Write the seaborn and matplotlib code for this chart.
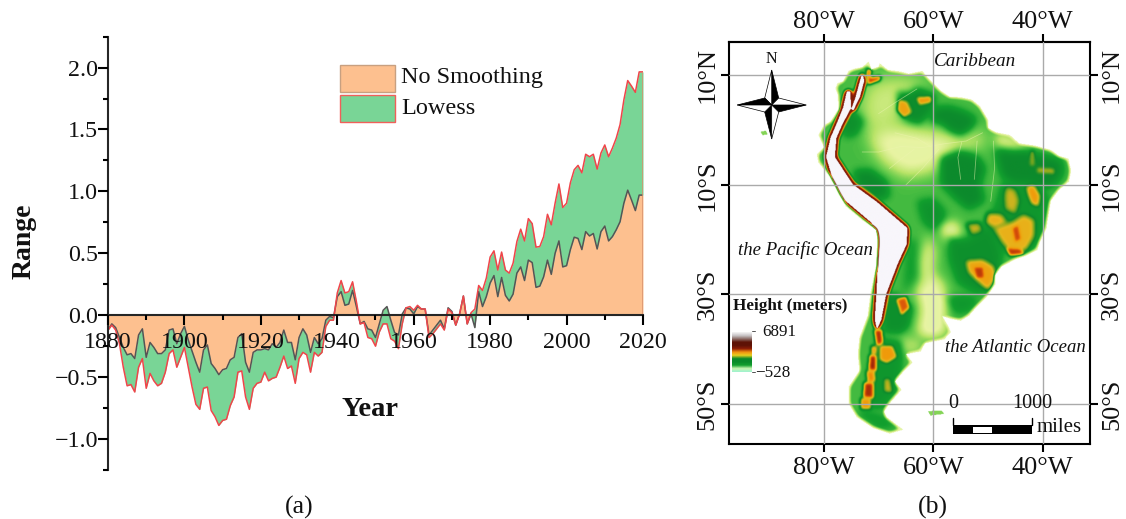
import numpy as np
import seaborn as sns
import matplotlib.pyplot as plt
from matplotlib.path import Path
from matplotlib.patches import Polygon, Rectangle
from matplotlib.ticker import MultipleLocator

#%%
# Panel (a) values
years = np.arange(1880, 2021)
no_smoothing = [
    -.12, -.07, -.10, -.18, -.26, -.32, -.31, -.35, -.16, -.11,
    -.34, -.22, -.26, -.31, -.31, -.28, -.12, -.11, -.23, -.15,
    -.09, -.20, -.29, -.38, -.46, -.28, -.24, -.39, -.43, -.48,
    -.44, -.43, -.36, -.34, -.18, -.15, -.38, -.46, -.30, -.28,
    -.28, -.27, -.28, -.23, -.26, -.22, -.12, -.22, -.22, -.36,
    -.18, -.11, -.16, -.30, -.18, -.23, -.19, -.04, -.01, -.02,
    .15, .19, .08, .09, .20, .07, -.07, -.05, -.11, -.12,
    -.18, -.07, .04, .07, -.04, -.14, -.16, .01, .06, .05,
    .01, .07, .05, .05, -.16, -.12, -.08, -.04, -.11, .06,
    .03, -.08, .01, .155, -.07, .01, -.10, .19, .07, .15,
    .26, .32, .15, .305, .16, .115, .17, .34, .39, .28,
    .445, .425, .225, .235, .31, .445, .33, .50, .60, .39,
    .40, .53, .63, .62, .53, .675, .64, .66, .535, .675,
    .72, .60, .635, .69, .755, .905, 1.01, .93, .845, .97, .97]
lowess = [
    -.12, -.08, -.12, -.23, -.42, -.57, -.56, -.62, -.42, -.35,
    -.59, -.47, -.53, -.57, -.55, -.46, -.31, -.28, -.42, -.34,
    -.26, -.42, -.58, -.72, -.76, -.59, -.58, -.77, -.82, -.89,
    -.85, -.84, -.73, -.66, -.46, -.45, -.66, -.76, -.59, -.55,
    -.54, -.46, -.53, -.51, -.50, -.42, -.33, -.43, -.41, -.55,
    -.35, -.30, -.32, -.46, -.30, -.33, -.30, -.09, -.04, -.04,
    .18, .28, .18, .19, .27, .11, -.07, -.06, -.18, -.19,
    -.25, -.135, -.07, -.07, -.19, -.21, -.27, -.07, .06, .07,
    .04, .08, .05, .05, -.18, -.15, -.11, -.07, -.12, .05,
    .02, -.08, .01, .155, -.07, .02, .05, .24, .20, .30,
    .47, .52, .365, .51, .365, .34, .42, .595, .695, .60,
    .78, .74, .55, .555, .635, .815, .73, .905, 1.06, .87,
    .905, 1.07, 1.175, 1.21, 1.15, 1.30, 1.28, 1.30, 1.18, 1.31,
    1.375, 1.28, 1.35, 1.43, 1.54, 1.74, 1.895, 1.85, 1.80, 1.965, 1.965]
y_ticks = [-1.0, -0.5, 0.0, 0.5, 1.0, 1.5, 2.0]
y_tick_labels = ["\u22121.0", "\u22120.5", "0.0", "0.5", "1.0", "1.5", "2.0"]
x_ticks = [1880, 1900, 1920, 1940, 1960, 1980, 2000, 2020]

# Panel (b) graticule
lon_ticks = [-80, -60, -40]
lon_labels = ["80°W", "60°W", "40°W"]
lat_ticks = [10, -10, -30, -50]
lat_labels = ["10°N", "10°S", "30°S", "50°S"]

# Panel (b) outlines as (lon, lat)
land = [(-77.5, 8.5), (-76.5, 8.8), (-75.5, 10.7), (-74.5, 11.1), (-73, 11.4), (-71.8, 12.4), (-71.3, 11),
        (-70, 11.5), (-69.8, 12.1), (-68.3, 10.9), (-66, 10.6), (-64.5, 10.2), (-62, 10.7), (-61, 9.5),
        (-60, 8.5), (-58.5, 7), (-57, 6), (-55, 5.9), (-53, 5.5), (-51.5, 4.3), (-50, 1.8), (-50, .3),
        (-48.5, -.5), (-46, -1), (-44.3, -2.5), (-41.5, -2.9), (-38.5, -3.7), (-37, -4.8), (-35.3, -5.3),
        (-34.8, -7.5), (-35.2, -9.5), (-37, -11), (-38.5, -13), (-39, -16), (-39.3, -18), (-40.5, -20.5),
        (-41, -22), (-43, -23), (-45, -23.7), (-47.5, -25), (-48.6, -26.5), (-48.7, -28.3), (-50.2, -30.5),
        (-52, -32.3), (-53.5, -34), (-55, -34.9), (-57, -34.5), (-58.4, -34), (-57.2, -36), (-56.8, -37),
        (-58, -38.3), (-61.5, -39), (-62.3, -40.5), (-65, -41), (-63.8, -42.5), (-65.3, -44), (-67, -46),
        (-65.8, -47.5), (-68, -50), (-69, -51.5), (-68.5, -52.5), (-65.5, -54.8), (-68, -55.5), (-71, -54.5),
        (-74, -52.5), (-75.5, -50), (-75.5, -47), (-73.5, -44), (-73.8, -41), (-73.5, -38), (-72, -34),
        (-71.5, -30), (-70.5, -25), (-70.2, -20), (-70.5, -18.3), (-73, -16.5), (-76, -14), (-77.2, -12),
        (-79, -8.5), (-81, -6), (-81.3, -4.5), (-80, -3.2), (-81, -1), (-80, .8), (-78.8, 1.5), (-77.3, 3.8),
        (-77.5, 6.5), (-77.9, 7.5)]
galapagos = [(-91.6, -.4), (-90.6, -.2), (-90.3, -.9), (-91.2, -1)]
malvinas = [(-61, -51.4), (-58.5, -51.3), (-58, -51.9), (-60.5, -52.2)]
andes_high = [(-75.8, 7), (-76.5, 4), (-77.5, 1.5), (-78.8, -1.5), (-79.6, -5), (-78.4, -9), (-76.4, -12.7),
              (-71.3, -17), (-70.2, -20), (-70.1, -24), (-70.4, -30), (-70.7, -34.7), (-70.3, -36.5),
              (-69.5, -34.7), (-68.6, -30), (-66.5, -24.5), (-64.9, -21), (-64.7, -18), (-70.3, -13.2),
              (-74.7, -10), (-78, -5), (-77.7, -1.5), (-76.6, 1), (-75, 4), (-75.2, 7)]
andes_east = [(-73, 10.3), (-72.6, 9), (-73.4, 6), (-74.6, 3.5), (-75, 3.7), (-74.2, 6), (-73.4, 9)]

# (height on the colour ramp, blur in degrees, outline)
layers = [
    # bright lowland greens and pale basins
    (.17, 1.2, [(-72, 8.5), (-66, 9.5), (-60.5, 8.5), (-63, 6.5), (-66.5, 3), (-67, 0), (-72, 0), (-73, 4)]),
    (.12, 1.0, [(-71.6, -.5), (-67, .5), (-60, -.5), (-55, -1.5), (-51, -.5), (-50.5, -2.5), (-56, -3.5), (-60, -7.5),
                (-65, -8.5), (-69, -6), (-71, -3)]),
    (.13, .6, [(-48.5, -.6), (-42.4, -2.6), (-43, -3.4), (-48.5, -3)]),
    (.13, .6, [(-58.8, -17), (-55.5, -16.8), (-55, -19), (-56, -21.3), (-58, -20)]),
    (.15, .7, [(-61, -19), (-59.5, -22), (-60, -26), (-57.5, -29), (-62, -30), (-62.5, -24)]),
    (.10, .7, [(-63, -29), (-59.5, -28), (-57.5, -30.5), (-58, -34), (-57.5, -37), (-60, -38), (-63, -37.5),
               (-62, -33)]),
    (.20, .6, [(-66, -38), (-62.5, -38), (-62, -40.6), (-65.5, -41)]),
    # dark green uplands
    (.40, .5, [(-60, 4), (-57, 4.2), (-54, 3.2), (-52, 2), (-53, .2), (-55, -1.2), (-57, -.3), (-58.5, 1.2),
               (-60.5, 1.5)]),
    (.39, .45, [(-66.7, 7), (-64.5, 6.8), (-62.8, 7.8), (-59.5, 6.3), (-60.2, 3.5), (-62.5, 1), (-65, 1.7), (-66.2, 3.5)]),
    (.40, .5, [(-58.8, -5), (-55, -3.8), (-52, -4.8), (-50.5, -7), (-51.5, -10), (-50.6, -13), (-53.5, -14.6),
               (-56, -12.5), (-58.5, -10)]),
    (.37, .5, [(-63, -13), (-60, -12.5), (-57.6, -15), (-58, -16.5), (-60, -18.6), (-62, -16.8)]),
    (.40, .5, [(-48.8, -3.5), (-45.5, -4), (-43, -3.8), (-39.5, -4.8), (-36.5, -5.5), (-36.2, -8), (-37.8, -10.2),
               (-41, -11), (-45, -10.5), (-47.5, -8.5)]),
    (.40, .5, [(-74.6, -7.5), (-71.5, -7.3), (-68.5, -9.5), (-68, -12.3), (-71, -13), (-73.5, -11.5)]),
    (.38, .5, [(-57.5, -19.5), (-54, -20), (-49, -17), (-47.5, -21.5), (-47.5, -24), (-48.5, -29), (-52, -30),
               (-55.5, -28), (-57, -24)]),
    (.36, .5, [(-47.5, -9.5), (-42, -9.5), (-38.7, -12), (-39.4, -17), (-40.8, -21), (-44, -23), (-48, -22),
               (-50, -17), (-48.5, -13)]),
    (.36, .5, [(-57.6, -30.5), (-54, -30.2), (-51.5, -31), (-53.5, -33.3), (-56, -33.7)]),
    (.38, .5, [(-76.7, 4.5), (-74.5, 3.5), (-72.5, 1.5), (-74, -1), (-76, -1.5), (-77.5, 1)]),
    (.38, .4, [(-69.5, -29.8), (-66.5, -30), (-63.7, -32.5), (-64.5, -36), (-66, -37.2), (-69, -37)]),
    (.36, .4, [(-70, -38), (-66, -38.5), (-65.5, -41), (-66, -46), (-67, -48), (-69, -51), (-72, -51), (-72, -44)]),
    (.34, .5, [(-65, -20), (-63, -20), (-63, -27), (-65.5, -30)]),
    (.34, .4, [(-72.5, -51), (-69, -52), (-66.5, -54.5), (-70, -54.8), (-74, -52)]),
    # yellow and orange highlands
    (.52, .3, [(-46.6, -10.4), (-45, -11), (-44.3, -13), (-45, -15.4), (-46.8, -14.5), (-47, -12)]),
    (.60, .25, [(-43, -10.4), (-41.6, -10.2), (-40.5, -12), (-40.8, -14), (-42, -13.5), (-42.6, -12)]),
    (.55, .3, [(-50, -15.2), (-47.5, -15.5), (-46.5, -17), (-48.8, -18), (-50.5, -17)]),
    (.52, .3, [(-54, -17.2), (-51.5, -17), (-51, -18.5), (-53, -19.3)]),
    (.55, .3, [(-49, -18), (-45.5, -16.8), (-43.5, -15.5), (-41.5, -16.5), (-41.6, -19.5), (-43, -22), (-46, -22.3),
               (-47.5, -20.5)]),
    (.70, .18, [(-46.6, -21.6), (-44, -21.8), (-43.4, -22.7), (-46, -23)]),
    (.68, .18, [(-45.5, -18), (-44.5, -17.5), (-44, -20), (-45, -20.5)]),
    (.58, .28, [(-54, -24), (-51, -23.8), (-49, -25), (-48.6, -27), (-50, -29.3), (-52, -27.5), (-53.5, -26)]),
    (.70, .16, [(-52.5, -25.2), (-51, -25.2), (-50.8, -27), (-52, -27)]),
    (.58, .2, [(-66.3, 5.5), (-64.8, 5), (-64, 3.2), (-65.3, 2.2), (-66.6, 3.5)]),
    (.60, .18, [(-63, 5.8), (-60.5, 6), (-60.5, 5), (-62.5, 4.6)]),
    (.50, .18, [(-41, -7), (-38, -7.2), (-38, -8), (-41, -7.8)]),
    (.48, .18, [(-42.3, -3.9), (-41.6, -3.9), (-41.6, -6.5), (-42.3, -6.5)]),
    (.66, .18, [(-66.7, -31), (-65, -30.5), (-64.4, -32.5), (-65.8, -33.8)]),
    (.60, .2, [(-69.8, -39.5), (-67.5, -39.5), (-66.7, -41.5), (-68.5, -42.6), (-69.8, -42)]),
    (.52, .22, [(-69, -45.5), (-68, -45.5), (-67.5, -48), (-69, -47.8)]),
    # Patagonian cordillera, mottled band
    (.72, .2, [(-70.8, -36.5), (-69.4, -36.5), (-69.2, -39), (-70.3, -39.5)]),
    (.58, .2, [(-71.3, -39.5), (-70.2, -39.5), (-70.4, -41), (-71.4, -41.2)]),
    (.74, .2, [(-71.6, -41.2), (-70.4, -41.2), (-70.5, -44), (-71.8, -44)]),
    (.62, .2, [(-72.2, -44), (-70.8, -44), (-70.6, -46), (-72, -46.2)]),
    (.72, .2, [(-72.6, -46.2), (-71, -46.2), (-71, -49), (-72.8, -49)]),
    (.60, .2, [(-73.2, -49), (-71.5, -49), (-71.5, -51), (-73.3, -51)]),
    # Andes rim and high plateau
    (.70, .2, [(-72.2, 11), (-71.3, 11), (-71.6, 9.5), (-69.5, 9.8), (-69.8, 9), (-72, 8.2)]),
]
rivers = [
    [(-73, -4), (-70, -4), (-66, -3), (-62, -3.2), (-58, -2.5), (-54, -2), (-51, -.5)],
    [(-65, -10), (-62, -7), (-59, -3.5)],
    [(-67, -.5), (-63, -1.5), (-60.5, -3)],
    [(-68, -7), (-65.5, -5), (-63.5, -3.5)],
    [(-55, -9), (-55.5, -5), (-54.8, -2.2)],
    [(-52.5, -9), (-52.2, -5), (-52, -2)],
    [(-49.5, -13), (-48.8, -7), (-49, -2)],
    [(-70, 3), (-67, 5), (-63, 7.5)],
]
ramp_colors = ["#a4f2c8", "#dff5a8", "#e8f3a2", "#b9e468", "#5fc94a", "#12a02e", "#0c8a2c", "#7aa61f", "#e6b81e",
               "#f09a0a", "#d8500a", "#9c2408", "#5e1206", "#8c6e68", "#d5cdd0", "#f8f6fb"]
legend_colors = ["#9ff2d0", "#c8f5b0", "#12a02e", "#0a8a2a", "#0a8a2a", "#e8d020", "#f09010", "#8c1c06", "#5e1206",
                 "#5e1206", "#8c6e68", "#c8c4c6", "#f4f4f4"]

#%%
sns.set_theme(style="ticks")
plt.rcParams["font.family"] = ["Liberation Serif", "DejaVu Serif"]
W, H = 1126, 519
fig = plt.figure(figsize=(W / 100, H / 100), dpi=100)


def add_axes_px(x0, y0, x1, y1):
    return fig.add_axes([x0 / W, 1 - y1 / H, (x1 - x0) / W, (y1 - y0) / H])


#%%
# Panel (a)
ax1 = add_axes_px(108, 36.6, 643, 470)
ax1.fill_between(years, 0, no_smoothing, color="#fdc08f", lw=0)
ax1.fill_between(years, no_smoothing, lowess, color="#79d596", lw=0)
sns.lineplot(x=years, y=no_smoothing, color="#555555", lw=1.1, ax=ax1, legend=False, errorbar=None)
sns.lineplot(x=years, y=lowess, color="#f0454a", lw=1.1, ax=ax1, legend=False, errorbar=None)
ax1.vlines(2020, 0, lowess[-1], color="#d8906c", lw=1.1)
ax1.set_xlim(1880, 2020)
ax1.set_ylim(-1.25, 2.25)
sns.despine(ax=ax1)
ax1.set_axisbelow(False)
ax1.spines["bottom"].set_position(("data", 0))
ax1.spines["left"].set_linewidth(1.5)
ax1.spines["bottom"].set_linewidth(1.5)
ax1.set_xticks(x_ticks)
ax1.set_yticks(y_ticks)
ax1.set_yticklabels(y_tick_labels)
ax1.xaxis.set_minor_locator(MultipleLocator(10))
ax1.yaxis.set_minor_locator(MultipleLocator(.25))
ax1.tick_params(which="major", length=7, width=1.5, labelsize=17.3, color="black", labelcolor="#111111")
ax1.tick_params(axis="x", which="major", pad=5)
ax1.tick_params(axis="y", which="major", pad=0)
ax1.tick_params(which="minor", length=3.5, width=1.5, color="black")
ax1.patch.set_alpha(0)

#%%
# Panel (b): elevation grid from the outlines above
lon_min, lon_max = -97.3, -31.35
lat_min, lat_max = -57.2, 16.13
cell = .1
lon_grid = np.arange(lon_min, lon_max, cell)
lat_grid = np.arange(lat_max, lat_min, -cell)
lon_mesh, lat_mesh = np.meshgrid(lon_grid, lat_grid)
points = np.column_stack([lon_mesh.ravel(), lat_mesh.ravel()])


def raster(outline):
    return Path(outline).contains_points(points).reshape(lon_mesh.shape).astype(float)


def blur(a, degrees):
    sigma = degrees / cell
    fy = np.fft.fftfreq(a.shape[0])[:, None]
    fx = np.fft.rfftfreq(a.shape[1])[None, :]
    gauss = np.exp(-2 * (np.pi * sigma) ** 2 * (fx ** 2 + fy ** 2))
    return np.fft.irfft2(np.fft.rfft2(a) * gauss, s=a.shape)


land_mask = raster(land)
height = np.full(land_mask.shape, .29)
for level, soft, outline in layers:
    weight = np.clip(blur(raster(outline), soft * 1.5), 0, 1)
    height = height * (1 - weight) + level * weight

# brown rim first, then the white plateau on top of it
high = np.clip(raster(andes_high) + raster(andes_east), 0, 1)
rim_soft = blur(high, .45)
foot = np.clip((rim_soft - .02) * 5, 0, 1)
height = height * (1 - foot) + .60 * foot
rim = np.clip((rim_soft - .12) * 6, 0, 1)
height = height * (1 - rim) + .76 * rim
top = np.clip((blur(high, .12) - .45) * 8, 0, 1)
height = height * (1 - top) + 1.0 * top

coast = np.clip((blur(land_mask, .45) - .5) * 2.6, 0, 1)
height = .10 + (height - .10) * coast
island_mask = raster(galapagos) + raster(malvinas)
height[island_mask > 0] = .24

terrain = sns.blend_palette(ramp_colors, n_colors=256, as_cmap=True)
map_rgba = terrain(np.clip(height, 0, 1))
map_rgba[land_mask + island_mask == 0] = (1, 1, 1, 1)

ax2 = add_axes_px(729.3, 41.7, 1090, 443.5)
ax2.imshow(map_rgba, extent=[lon_min, lon_max, lat_min, lat_max], origin="upper", aspect="auto")
for river in rivers:
    sns.lineplot(x=[p[0] for p in river], y=[p[1] for p in river], color="#eef5b0", lw=.6, alpha=.5, ax=ax2,
                 legend=False, errorbar=None, sort=False)
ax2.set_xlim(lon_min, lon_max)
ax2.set_ylim(lat_min, lat_max)
ax2.set_xticks(lon_ticks)
ax2.set_xticklabels(lon_labels)
ax2.set_yticks(lat_ticks)
ax2.set_yticklabels(lat_labels)
ax2.tick_params(right=True, labelright=True, length=6, width=1.5, labelsize=19, color="black", labelcolor="#111111")
ax2.tick_params(axis="x", pad=4)
ax2.tick_params(axis="y", pad=2)
for label in ax2.get_yticklabels():
    label.set_rotation(90)
    label.set_va("center")
ax2.grid(True, color="#aaaaaa", lw=1)
ax2.set_axisbelow(False)
for spine in ax2.spines.values():
    spine.set_linewidth(1.5)
    spine.set_color("black")
ax2_top = ax2.secondary_xaxis("top")
ax2_top.set_xticks(lon_ticks)
ax2_top.set_xticklabels(lon_labels)
ax2_top.tick_params(length=6, width=1.5, labelsize=19, pad=0, color="black", labelcolor="#111111")
ax2_top.spines["top"].set_linewidth(1.5)

# Height ramp
ax_ramp = add_axes_px(732, 332, 752, 372)
ramp = sns.blend_palette(legend_colors, n_colors=256, as_cmap=True)
ax_ramp.imshow(np.linspace(1, 0, 120)[:, None], cmap=ramp, aspect="auto", vmin=0, vmax=1)
ax_ramp.axis("off")

#%%
# Overlay in picture pixels for the annotation
over = fig.add_axes([0, 0, 1, 1], zorder=10)
over.set_xlim(0, W)
over.set_ylim(H, 0)
over.axis("off")
over.patch.set_alpha(0)

over.add_patch(Rectangle((340, 65), 55, 27, fc="#fdc08f", ec="#c8a080", lw=1))
over.add_patch(Rectangle((340, 95), 55, 27, fc="#79d596", ec="#f0605a", lw=1))
over.text(401, 78, "No Smoothing", fontsize=17.5, va="center", color="#111111")
over.text(401, 109, "Lowess", fontsize=17.5, va="center", color="#111111")
over.text(370, 409, "Year", fontsize=20.5, fontweight="bold", ha="center", va="center", color="#111111")
over.text(24, 241, "Range", fontsize=20, fontweight="bold", rotation=90, ha="center", va="center", color="#111111")
over.text(299, 507, "(a)", fontsize=18.5, ha="center", va="center", color="#111111")
over.text(933, 507, "(b)", fontsize=18.5, ha="center", va="center", color="#111111")

over.text(975, 61, "Caribbean", fontsize=13.8, style="italic", ha="center", va="center", color="#111111")
over.text(805.5, 250, "the Pacific Ocean", fontsize=13.5, style="italic", ha="center", va="center", color="#111111")
over.text(1015.5, 347, "the Atlantic Ocean", fontsize=13.5, style="italic", ha="center", va="center", color="#111111")
over.text(733, 306, "Height (meters)", fontsize=12.3, fontweight="bold", va="center", color="#111111")
over.text(762, 332, "6891", fontsize=12.3, va="center", color="#111111")
over.text(755, 373, "\u2212528", fontsize=12.3, va="center", color="#111111")
over.plot([752, 755], [331, 331], color="#555555", lw=.7)
over.plot([752, 755], [372, 372], color="#555555", lw=.7)

# Compass
cx, cy = 771.7, 105
over.text(cx, 59, "N", fontsize=11.5, ha="center", va="center", color="#111111")
tips = [(0, -35), (34.5, 0), (0, 34), (-34.5, 0)]
shoulder = 7
for tx, ty in tips:
    side_a = (cx + (tx - ty) / abs(tx + ty) * shoulder, cy + (ty + tx) / abs(tx + ty) * shoulder)
    side_b = (cx + (tx + ty) / abs(tx + ty) * shoulder, cy + (ty - tx) / abs(tx + ty) * shoulder)
    tip = (cx + tx, cy + ty)
    over.add_patch(Polygon([(cx, cy), tip, side_a], fc="black", ec="black", lw=.5))
    over.add_patch(Polygon([(cx, cy), tip, side_b], fc="white", ec="black", lw=.5))

# Scale bar
over.add_patch(Rectangle((953, 425), 79, 9, fc="black", ec="none"))
over.add_patch(Rectangle((973, 426.5), 19, 6, fc="white", ec="none"))
over.plot([953, 953], [418, 425], color="black", lw=1)
over.plot([1032, 1032], [418, 425], color="black", lw=1)
over.text(953, 404, "0", fontsize=14.5, ha="center", va="center", color="#111111")
over.text(1032, 404, "1000", fontsize=14.5, ha="center", va="center", color="#111111")
over.text(1037, 428, "miles", fontsize=15, va="center", color="#111111")

fig.savefig("out.png", dpi=100, facecolor="white")
